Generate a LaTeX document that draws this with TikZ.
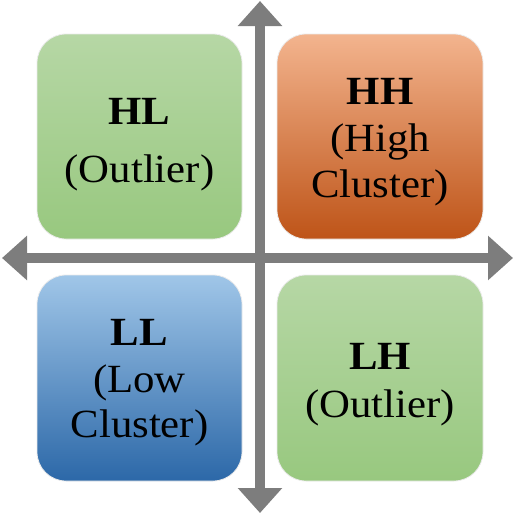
\documentclass[tikz,border=0pt]{standalone}
\usepackage{fontspec}
\setmainfont{Liberation Serif}[FakeStretch=1.07]
\usetikzlibrary{arrows.meta}
\definecolor{axisgray}{RGB}{125,125,125}
\definecolor{gtop}{RGB}{182,215,165}
\definecolor{gbot}{RGB}{152,200,127}
\definecolor{otop}{RGB}{243,180,142}
\definecolor{omid}{RGB}{236,125,50}
\definecolor{obot}{RGB}{190,84,24}
\definecolor{btop}{RGB}{160,198,232}
\definecolor{bbot}{RGB}{44,104,168}
\tikzset{
  quad/.style={rounded corners=29pt, draw=white!92!black, line width=0.8pt},
  greenq/.style={quad, top color=gtop, bottom color=gbot},
  orangeq/.style={quad, top color=otop, middle color=omid, bottom color=obot},
  blueq/.style={quad, top color=btop, bottom color=bbot},
  lbl/.style={anchor=base, inner sep=0pt, font=\fontsize{40}{46}\selectfont, text=black},
  axis/.style={draw=axisgray, line width=10.5pt, -{Triangle[length=25pt,width=43pt]}}
}
\begin{document}
\begin{tikzpicture}[x=1pt,y=-1pt]
\useasboundingbox (0,0) rectangle (514,514);
% boxes
\path[greenq]  (37,34)  rectangle (242,239);
\path[orangeq] (277,34) rectangle (483,239);
\path[blueq]   (37,275) rectangle (242,481);
\path[greenq]  (277,275) rectangle (483,481);
% axes
\coordinate (ctr) at (260,258);
\coordinate (top) at (260,1);
\coordinate (bot) at (260,513);
\coordinate (lft) at (2,258);
\coordinate (rgt) at (513,258);
\draw[axis] (ctr) -- (top);
\draw[axis] (ctr) -- (bot);
\draw[axis] (ctr) -- (lft);
\draw[axis] (ctr) -- (rgt);
% labels
\node[lbl] (hl1) at (139.5,124) {\bfseries HL};
\node[lbl] (hl2) at (139.5,182) {(Outlier)};
\node[lbl] (hh1) at (380,104) {\bfseries HH};
\node[lbl] (hh2) at (380,151) {(High};
\node[lbl] (hh3) at (380,197) {Cluster)};
\node[lbl] (ll1) at (139.5,345) {\bfseries LL};
\node[lbl] (ll2) at (139.5,392) {(Low};
\node[lbl] (ll3) at (139.5,437) {Cluster)};
\node[lbl] (lh1) at (380,369) {\bfseries LH};
\node[lbl] (lh2) at (380,417) {(Outlier)};
\end{tikzpicture}
\end{document}
